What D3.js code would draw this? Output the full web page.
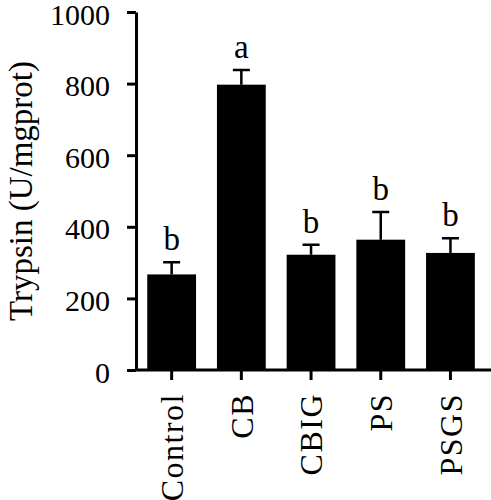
<!DOCTYPE html>
<html>
<head>
<meta charset="utf-8">
<script src="https://cdn.jsdelivr.net/npm/d3@7"></script>
<style>
  body { margin: 0; background: #fff; }
  svg text { font-family: "Liberation Serif", "DejaVu Serif", serif; fill: #000; }
</style>
</head>
<body>
<div id="chart"></div>
<script>
const groups = ['Control', 'CB', 'CBIG', 'PS', 'PSGS'];
const means = [267, 797, 322, 364, 327];
const sems = [34, 41, 28, 77, 41];
const letters = ['b', 'a', 'b', 'b', 'b'];
const yTicks = [0, 200, 400, 600, 800, 1000];

const width = 491;
const height = 500;

const svg = d3.select('#chart').append('svg')
    .attr('width', width)
    .attr('height', height);

const x = d3.scaleBand()
    .domain(groups)
    .range([136.8, 485.3])
    .paddingInner(0.3)
    .paddingOuter(0.15);

const y = d3.scaleLinear()
    .domain([0, 1000])
    .range([370, 12]);

// bars
svg.selectAll('.bar')
    .data(groups)
    .enter()
    .append('rect')
    .attr('x', d => x(d))
    .attr('y', (d, i) => y(means[i]))
    .attr('width', x.bandwidth())
    .attr('height', (d, i) => y(0) - y(means[i]))
    .attr('fill', '#000');

// error bars, upper half only
const capW = 17;
svg.selectAll('.err')
    .data(groups)
    .enter()
    .append('path')
    .attr('d', (d, i) => {
        const cx = x(d) + x.bandwidth() / 2;
        const top = y(means[i] + sems[i]);
        return 'M' + cx + ',' + y(means[i]) + 'V' + top +
            'M' + (cx - capW / 2) + ',' + top + 'H' + (cx + capW / 2);
    })
    .attr('stroke', '#000')
    .attr('stroke-width', 2.5)
    .attr('fill', 'none');

// significance letters
svg.selectAll('.letter')
    .data(groups)
    .enter()
    .append('text')
    .attr('x', d => x(d) + x.bandwidth() / 2)
    .attr('y', (d, i) => y(means[i] + sems[i]) - 12)
    .attr('text-anchor', 'middle')
    .style('font-size', '33px')
    .text((d, i) => letters[i]);

// y axis
const yAxis = svg.append('g')
    .attr('transform', 'translate(136,0)')
    .call(d3.axisLeft(y).tickValues(yTicks).tickFormat(d3.format('d'))
        .tickSize(9).tickPadding(17).tickSizeOuter(0));
yAxis.select('.domain').attr('stroke-width', 3);
yAxis.selectAll('.tick line').attr('stroke-width', 3);
yAxis.selectAll('.tick text')
    .style('font-size', '30px')
    .attr('fill', '#000')
    .attr('dy', '0.4em');

// x axis
const xAxis = svg.append('g')
    .attr('transform', 'translate(0,370)')
    .call(d3.axisBottom(x).tickSize(10).tickSizeOuter(0));
xAxis.select('.domain').remove();
xAxis.append('line')
    .attr('x1', 136).attr('x2', 491)
    .attr('stroke', '#000')
    .attr('stroke-width', 3);
xAxis.selectAll('.tick line').attr('stroke-width', 3);
xAxis.selectAll('.tick text')
    .style('font-size', '32px')
    .style('letter-spacing', '1.5px')
    .attr('fill', '#000')
    .attr('text-anchor', 'end')
    .attr('transform', 'rotate(-90)')
    .attr('x', -23)
    .attr('y', 0)
    .attr('dy', '0.35em');

// y axis title
svg.append('text')
    .attr('transform', 'translate(32,191) rotate(-90)')
    .attr('text-anchor', 'middle')
    .style('font-size', '33px')
    .text('Trypsin (U/mgprot)');
</script>
</body>
</html>
